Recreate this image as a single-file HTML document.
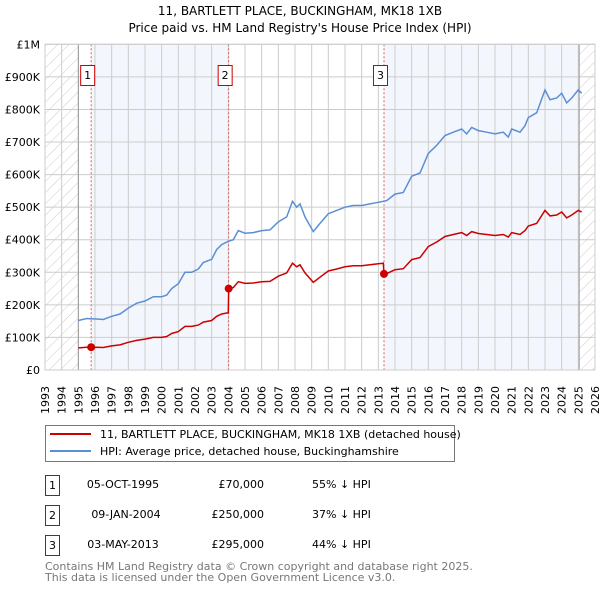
<!DOCTYPE html>
<html><head><meta charset="utf-8"><style>
body{margin:0;background:#fff;font-family:"DejaVu Sans","Liberation Sans",sans-serif;}
svg text{font-family:"DejaVu Sans","Liberation Sans",sans-serif;}
</style></head><body>
<svg id="c" width="600" height="590" xmlns="http://www.w3.org/2000/svg">
<defs><pattern id="h" width="8" height="8" patternUnits="userSpaceOnUse" patternTransform="rotate(45)"><line x1="0" y1="0" x2="0" y2="8" stroke="#ccc" stroke-width="1"/></pattern></defs>
<text x="300" y="15" text-anchor="middle" font-size="12">11, BARTLETT PLACE, BUCKINGHAM, MK18 1XB</text>
<text x="300" y="32" text-anchor="middle" font-size="12">Price paid vs. HM Land Registry's House Price Index (HPI)</text>
<g id="plot"></g>
<g>
<rect x="45.5" y="425.5" width="409" height="36" fill="#fff" stroke="#777"/>
<line x1="50" y1="434" x2="91" y2="434" stroke="#cc0000" stroke-width="2"/>
<text x="100" y="438" font-size="11">11, BARTLETT PLACE, BUCKINGHAM, MK18 1XB (detached house)</text>
<line x1="50" y1="451" x2="91" y2="451" stroke="#5b8fd4" stroke-width="2"/>
<text x="100" y="455" font-size="11">HPI: Average price, detached house, Buckinghamshire</text>
</g>
<g font-size="11">
<rect x="45.5" y="475.5" width="14" height="20" fill="#fff" stroke="#c00"/><text x="52.5" y="489" text-anchor="middle">1</text>
<text x="123" y="488" text-anchor="middle">05-OCT-1995</text><text x="264" y="488" text-anchor="end">£70,000</text><text x="312" y="488">55% ↓ HPI</text>
<rect x="45.5" y="505.5" width="14" height="20" fill="#fff" stroke="#c00"/><text x="52.5" y="519" text-anchor="middle">2</text>
<text x="126" y="518" text-anchor="middle">09-JAN-2004</text><text x="264" y="518" text-anchor="end">£250,000</text><text x="312" y="518">37% ↓ HPI</text>
<rect x="45.5" y="535.5" width="14" height="20" fill="#fff" stroke="#c00"/><text x="52.5" y="549" text-anchor="middle">3</text>
<text x="123" y="548" text-anchor="middle">03-MAY-2013</text><text x="264" y="548" text-anchor="end">£295,000</text><text x="312" y="548">44% ↓ HPI</text>
</g>
<text x="45" y="570" font-size="11" fill="#777">Contains HM Land Registry data © Crown copyright and database right 2025.</text>
<text x="45" y="581" font-size="11" fill="#777">This data is licensed under the Open Government Licence v3.0.</text>
</svg>
<script>
const yTicks=[0,100000,200000,300000,400000,500000,600000,700000,800000,900000,1000000];
const yTickLabels=["£0","£100K","£200K","£300K","£400K","£500K","£600K","£700K","£800K","£900K","£1M"];
const years=[1993,1994,1995,1996,1997,1998,1999,2000,2001,2002,2003,2004,2005,2006,2007,2008,2009,2010,2011,2012,2013,2014,2015,2016,2017,2018,2019,2020,2021,2022,2023,2024,2025,2026];
const hpiDates=[1995.0,1995.5,1995.77,1996.0,1996.5,1997.0,1997.5,1998.0,1998.5,1999.0,1999.5,2000.0,2000.3,2000.6,2001.0,2001.4,2001.8,2002.2,2002.5,2003.0,2003.3,2003.6,2004.0,2004.3,2004.6,2005.0,2005.5,2006.0,2006.5,2007.0,2007.5,2007.85,2008.1,2008.3,2008.6,2009.1,2009.5,2010.0,2010.5,2011.0,2011.5,2012.0,2012.5,2013.0,2013.3,2013.5,2014.0,2014.5,2015.0,2015.5,2016.0,2016.5,2017.0,2017.5,2018.0,2018.3,2018.6,2019.0,2019.5,2020.0,2020.5,2020.8,2021.0,2021.5,2021.8,2022.0,2022.5,2023.0,2023.3,2023.7,2024.0,2024.3,2024.6,2025.0,2025.2];
const hpiValues=[152,158,157,157,155,165,172,190,205,212,225,225,230,250,265,300,300,310,330,340,370,385,395,400,428,420,422,428,430,455,470,518,500,510,470,425,450,480,490,500,505,505,510,515,518,520,540,545,595,605,665,690,720,730,740,725,745,735,730,725,730,715,740,730,750,775,790,860,830,835,850,820,835,860,850];
const priceDates=[1995.0,1995.5,1995.77,1996.0,1996.5,1997.0,1997.5,1998.0,1998.5,1999.0,1999.5,2000.0,2000.3,2000.6,2001.0,2001.4,2001.8,2002.2,2002.5,2003.0,2003.3,2003.6,2004.0,2004.02,2004.3,2004.6,2005.0,2005.5,2006.0,2006.5,2007.0,2007.5,2007.85,2008.1,2008.3,2008.6,2009.1,2009.5,2010.0,2010.5,2011.0,2011.5,2012.0,2012.5,2013.0,2013.3,2013.34,2013.5,2014.0,2014.5,2015.0,2015.5,2016.0,2016.5,2017.0,2017.5,2018.0,2018.3,2018.6,2019.0,2019.5,2020.0,2020.5,2020.8,2021.0,2021.5,2021.8,2022.0,2022.5,2023.0,2023.3,2023.7,2024.0,2024.3,2024.6,2025.0,2025.2];
const priceValues=[68,70,70,70,69,74,77,85,91,95,100,100,103,112,118,134,134,138,147,152,165,172,176,250,253,271,266,267,271,272,288,298,328,317,323,298,269,285,304,310,317,320,320,323,326,328,295,296,308,311,339,345,379,393,410,416,422,413,425,419,416,413,416,408,422,416,428,442,450,490,473,476,485,467,476,490,485];
const saleDates=[1995.77,2004.02,2013.34];
const salePrices=[70,250,295];
const saleLabels=["1","2","3"];
const X0=45,X1=595,Y0=370,Y1=44.3;
const x=t=>X0+(t-1993)/(2026-1993)*(X1-X0);
const y=v=>Y0-v/1000000*(Y0-Y1);
const yk=v=>y(v*1000);
const NS="http://www.w3.org/2000/svg";
const g=document.getElementById('plot');
function mk(tag,at,parent){const e=document.createElementNS(NS,tag);for(const k in at)e.setAttribute(k,at[k]);(parent||g).appendChild(e);return e;}
// shading
let r=mk('rect',{x:x(saleDates[0]),y:Y1,width:x(saleDates[1])-x(saleDates[0]),height:Y0-Y1,fill:'#eef3fc',opacity:0.7});


r=mk('rect',{x:x(saleDates[2]),y:Y1,width:x(2025.05)-x(saleDates[2]),height:Y0-Y1,fill:'#eef3fc',opacity:0.7});


r=mk('rect',{x:X0,y:Y1,width:x(1995)-X0,height:Y0-Y1,fill:'url(#h)'});


r=mk('rect',{x:x(2025.05),y:Y1,width:X1-x(2025.05),height:Y0-Y1,fill:'url(#h)'});


// grid
years.forEach(yr=>{const l=mk('line',{x1:x(yr),x2:x(yr),y1:Y1,y2:Y0,stroke:'#ccc','stroke-width':1});


const t=mk('text',{transform:`translate(${x(yr)+4},${Y0+44}) rotate(-90)`,'font-size':'11'});t.textContent=yr;

});
yTicks.forEach((v,i)=>{const l=mk('line',{x1:X0,x2:X1,y1:y(v),y2:y(v),stroke:'#ccc','stroke-width':1});


const t=mk('text',{x:40,y:y(v)+4,'text-anchor':'end','font-size':'11'});t.textContent=yTickLabels[i];

});
[1995,2025.05].forEach(t=>{const l=mk('line',{x1:x(t),x2:x(t),y1:Y1,y2:Y0,stroke:'#999','stroke-width':1});

});
// sale vlines
saleDates.forEach((d,i)=>{const l=mk('line',{x1:x(d),x2:x(d),y1:Y1,y2:Y0,stroke:'#e06060','stroke-width':1,'stroke-dasharray':'2,2'});

});
// series
const hp=hpiDates.map((d,i)=>x(d).toFixed(1)+','+yk(hpiValues[i]).toFixed(1)).join(' ');
const hl=mk('polyline',{points:hp,fill:'none',stroke:'#5b8fd4','stroke-width':1.5});


const pp=priceDates.map((d,i)=>x(d).toFixed(1)+','+yk(priceValues[i]).toFixed(1)).join(' ');
const pl=mk('polyline',{points:pp,fill:'none',stroke:'#cc0000','stroke-width':1.5});


saleDates.forEach((d,i)=>{const c=mk('circle',{cx:x(d),cy:yk(salePrices[i]),r:4,fill:'#cc0000'});


const b=mk('rect',{x:x(d)-10.5,y:65.5,width:14,height:20,fill:'#fff',stroke:'#c00'});


const t=mk('text',{x:x(d)-3.5,y:79,'text-anchor':'middle','font-size':'11'});t.textContent=saleLabels[i];

});
const fr=mk('rect',{x:X0,y:Y1,width:X1-X0,height:Y0-Y1,fill:'none',stroke:'#ccc'});


</script>
</body></html>
